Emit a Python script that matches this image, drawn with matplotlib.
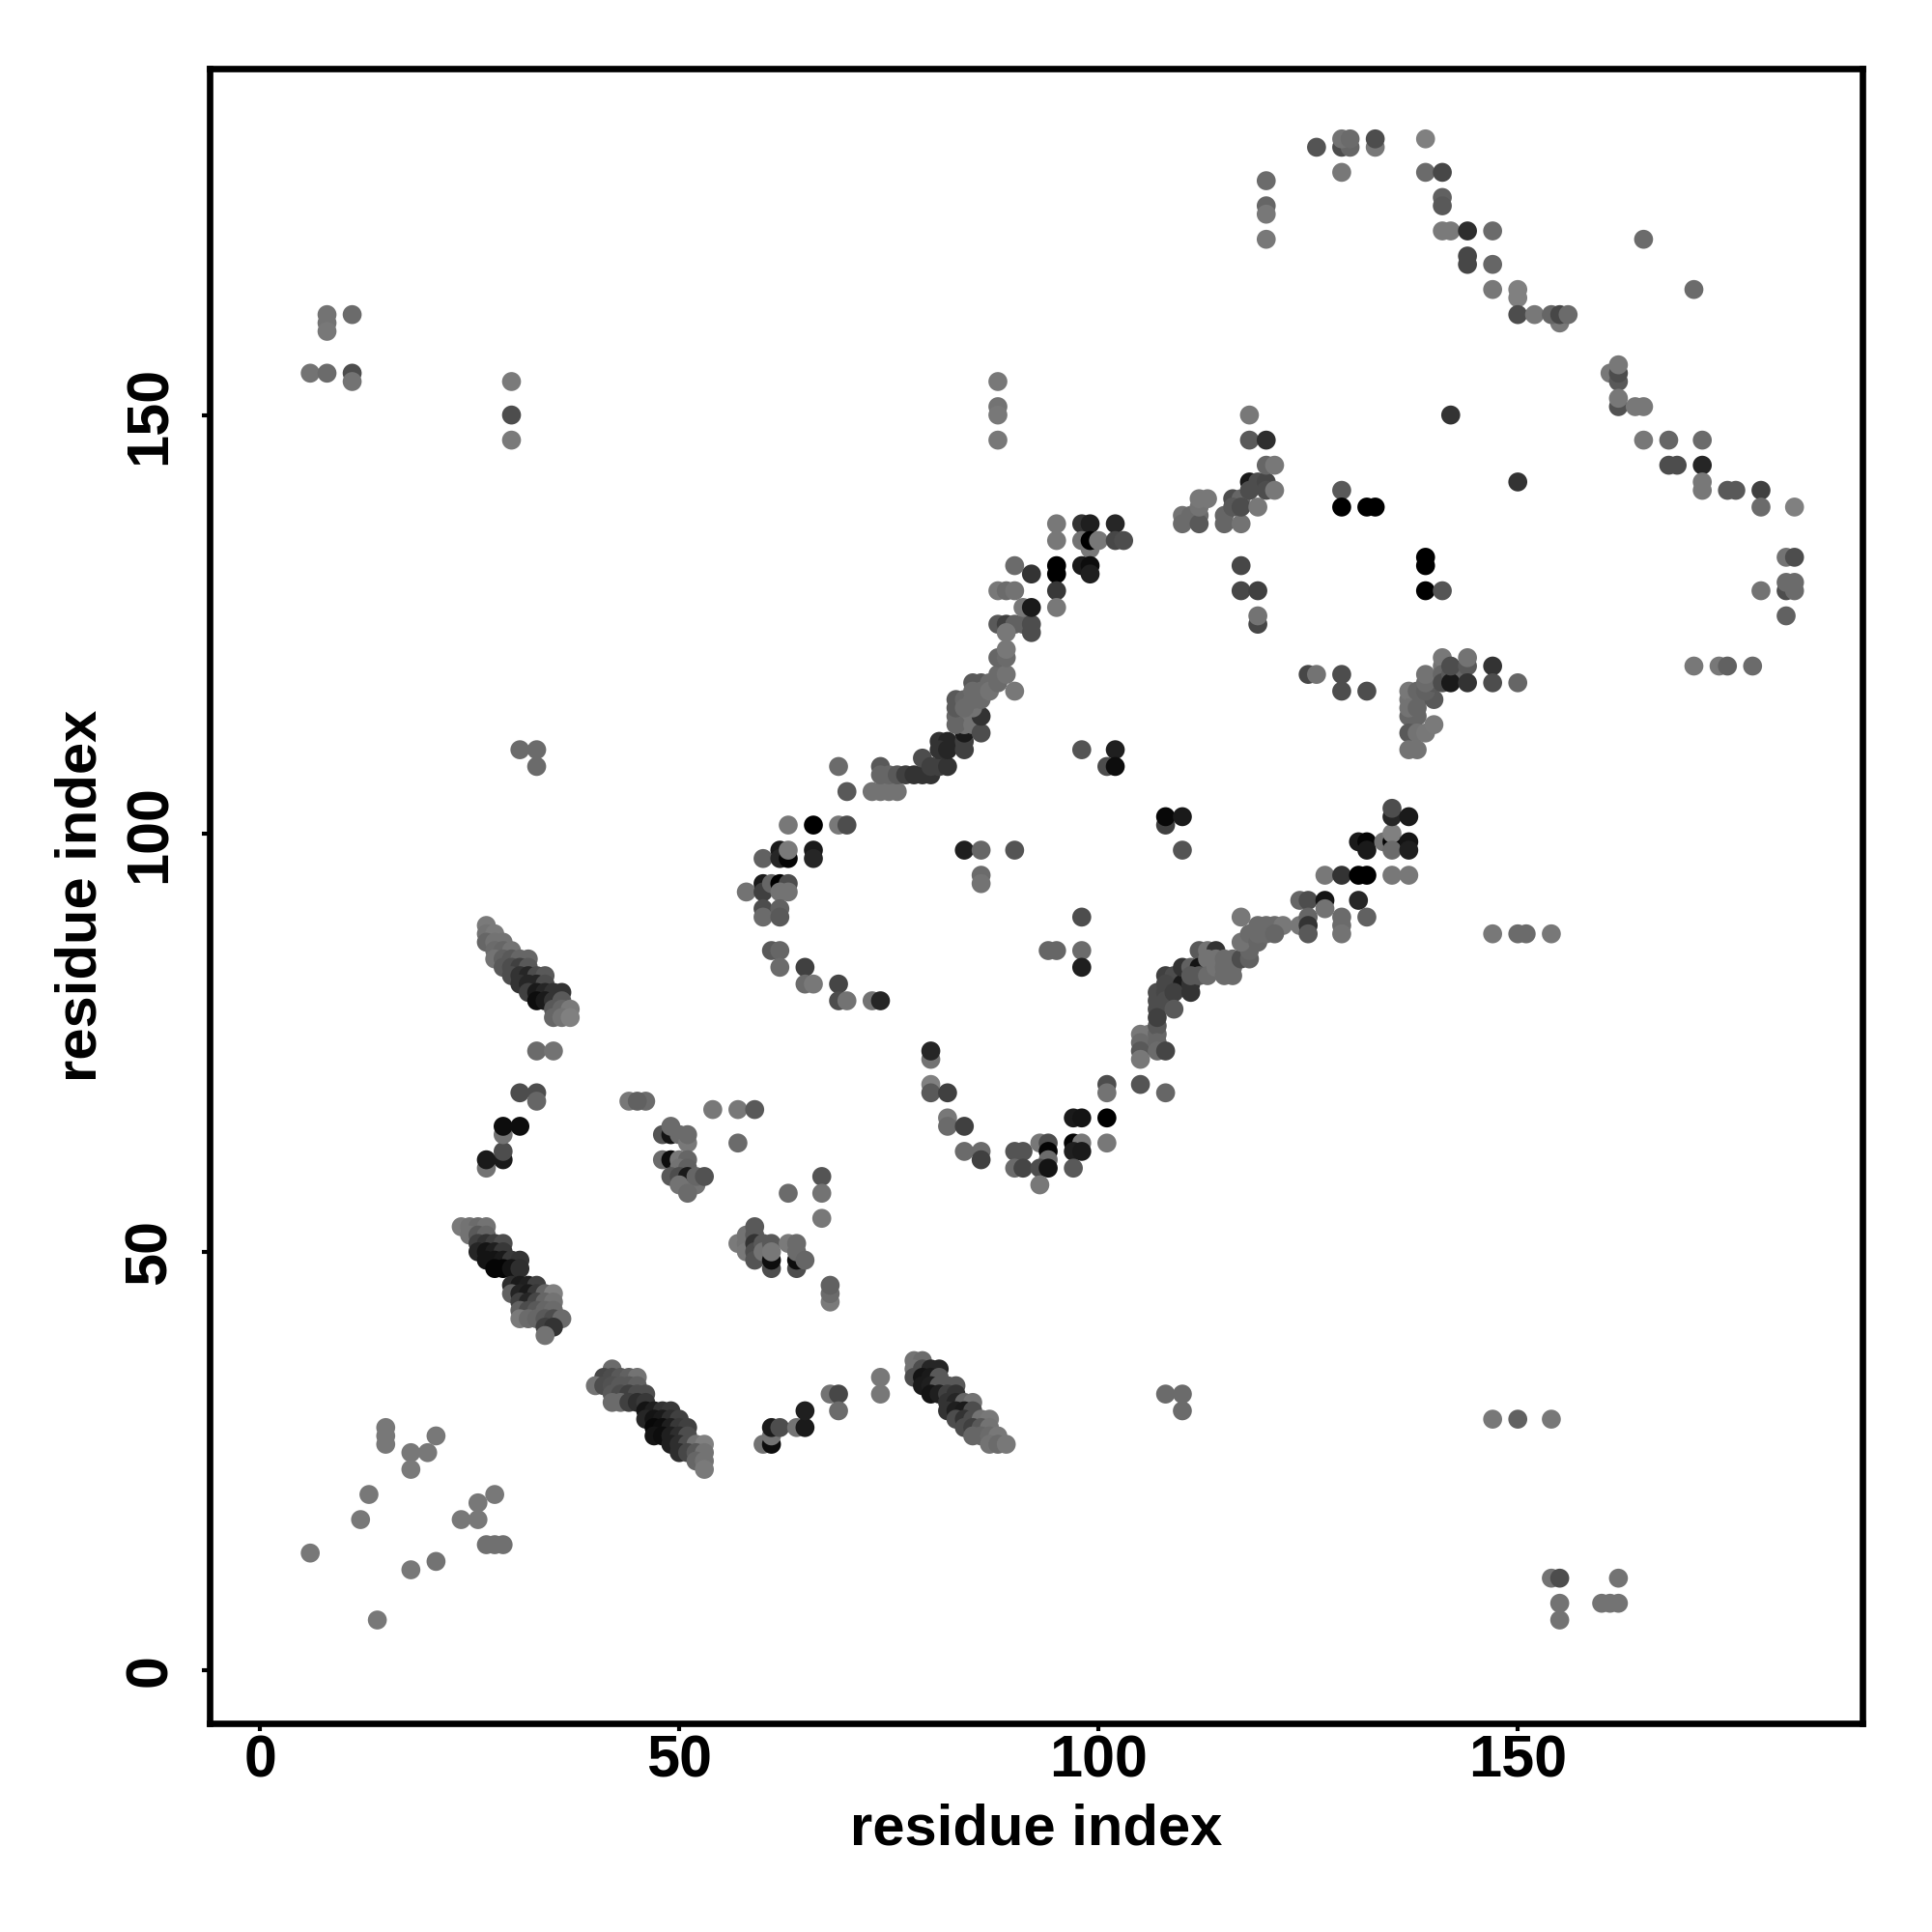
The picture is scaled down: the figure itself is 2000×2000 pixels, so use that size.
import matplotlib
matplotlib.use('Agg')
import matplotlib.pyplot as plt

plt.rcParams['font.family'] = ['Liberation Sans', 'DejaVu Sans']
plt.rcParams['font.weight'] = 'bold'

TICKS = [0, 50, 100, 150]

# (residue x, residue y, grey level in percent)
scatter_low_left = [
    (6,14,47),(12,18,47),(13,21,47),(14,6,47),(15,29,47),(15,28,47),(15,27,47),(18,26,47),(18,24,48),(18,12,47),
    (20,26,47),(21,28,47),(21,13,45),(24,18,47),(26,18,47),(26,20,47),(28,21,47),(27,15,44),(28,15,44),(29,15,44),
]
scatter_low_right = [
    (154,11,45),(155,11,30),(155,8,45),(155,6,45),(160,8,45),(161,8,45),(162,8,45),(162,11,45),
    (147,30,47),(150,30,38),(154,30,47),(147,88,47),(150,88,42),(151,88,42),(154,88,47),
    (108,33,42),(110,33,42),(110,31,42),(74,35,47),(74,33,47),
]
strand_a = [
    (24,53,48),(25,53,45),(26,53,42),(27,53,45),(25,52,45),(26,52,35),(27,52,40),
    (26,51,25),(27,51,20),(28,51,25),(29,51,30),(26,50,15),(27,50,8),(28,50,12),(29,50,22),
    (27,49,8),(28,49,8),(29,49,10),(30,49,22),(31,49,20),(28,48,2),(29,48,2),(30,48,8),(31,48,18),
    (30,46,18),(31,46,10),(32,46,12),(33,46,25),(30,45,38),(31,45,14),(32,45,10),(33,45,22),(34,45,40),(35,45,50),
    (31,44,25),(32,44,15),(33,44,28),(34,44,40),(35,44,45),(31,43,38),(32,43,30),(33,43,35),(34,43,40),(35,43,42),
    (31,42,48),(32,42,42),(33,42,40),(34,42,35),(35,42,30),(36,42,42),(34,41,25),(35,41,20),(34,40,45),
]
strand_b = [
    (42,36,42),(41,35,28),(42,35,30),(43,35,35),(44,35,38),(45,35,45),(40,34,45),(41,34,30),(42,34,32),(43,34,35),(44,34,35),(45,34,38),
    (42,33,35),(43,33,30),(44,33,25),(45,33,30),(46,33,30),(42,32,42),(43,32,42),(44,32,25),(45,32,18),(46,32,22),
    (46,31,8),(47,31,12),(48,31,20),(49,31,22),(46,30,15),(47,30,8),(48,30,10),(49,30,18),(50,30,25),
    (47,29,3),(48,29,5),(49,29,12),(50,29,22),(51,29,25),(47,28,8),(48,28,5),(49,28,12),(50,28,18),(51,28,30),
    (49,27,12),(50,27,18),(51,27,30),(52,27,45),(53,27,50),(50,26,18),(51,26,28),(52,26,35),(53,26,45),(52,25,40),(53,25,45),(53,24,48),
    (60,27,45),(61,27,5),(61,28,45),(61,29,10),(62,29,30),(64,29,45),(65,29,10),(65,31,12),(68,33,45),(69,33,28),(69,31,42),
]
strand_c = [
    (27,89,48),(27,88,45),(28,88,48),(27,87,40),(28,87,45),(29,87,45),(28,86,42),(29,86,40),(30,86,45),
    (28,85,45),(29,85,38),(30,85,35),(31,85,40),(32,85,40),(29,84,35),(30,84,30),(31,84,25),(32,84,35),
    (30,83,30),(31,83,20),(32,83,15),(33,83,30),(34,83,35),(31,82,20),(32,82,15),(33,82,15),(34,82,30),
    (32,81,25),(33,81,10),(34,81,15),(35,81,20),(36,81,20),(33,80,5),(34,80,10),(35,80,20),(36,80,35),
    (35,79,35),(36,79,40),(37,79,48),(35,78,40),(36,78,45),(37,78,50),
]
strand_d = [
    (78,37,45),(79,37,42),(78,36,45),(79,36,30),(80,36,15),(81,36,15),(78,35,30),(79,35,8),(80,35,10),(81,35,35),
    (79,34,10),(80,34,12),(81,34,35),(82,34,35),(83,34,35),(80,33,8),(81,33,12),(82,33,25),(83,33,20),
    (82,32,20),(83,32,15),(84,32,40),(85,32,45),(82,31,20),(83,31,12),(84,31,10),(85,31,30),
    (83,30,30),(84,30,20),(85,30,30),(86,30,45),(87,30,47),(84,29,30),(85,29,25),(86,29,35),(87,29,45),
    (85,28,40),(86,28,40),(87,28,42),(88,28,47),(87,27,45),(88,27,42),(89,27,47),
]
patch_left = [
    (31,110,42),(33,110,42),(33,108,42),(30,154,48),(30,150,30),(30,147,48),
    (6,155,45),(8,155,42),(8,162,45),(8,161,45),(8,160,47),(11,162,42),(11,155,30),(11,154,45),
    (31,69,30),(33,69,30),(33,68,40),(33,74,42),(35,74,45),
    (27,60,45),(27,61,10),(29,61,10),(29,62,30),(29,64,45),(29,65,5),(31,65,5),
]
patch_mid = [
    (44,68,47),(46,68,42),(45,68,38),(54,67,47),(57,67,47),(59,67,35),(57,63,42),
    (48,64,33),(49,64,8),(49,65,42),(50,64,42),(51,63,47),(51,64,42),
    (48,61,42),(49,61,5),(50,61,47),(51,61,40),(50,60,45),(51,60,38),
    (49,59,35),(50,59,30),(51,59,10),(50,58,45),(52,58,45),(52,59,40),(53,59,32),(51,57,42),
    (57,51,48),(58,52,45),(58,51,45),(58,50,47),(59,53,35),(59,52,35),(59,51,20),(59,50,30),(59,49,33),
    (60,51,35),(60,50,45),(61,48,30),(61,49,5),(61,51,35),(61,50,47),
    (63,51,48),(64,48,30),(64,49,5),(64,51,42),(64,50,42),(65,49,40),
    (67,59,33),(67,57,45),(63,57,42),(67,54,47),(68,44,48),(68,45,42),(68,46,38),
]
arc_left = [
    (58,93,45),(60,94,10),(60,93,25),(61,94,40),(62,94,0),(63,94,30),(63,93,45),(62,93,45),
    (60,91,30),(60,90,42),(62,91,38),(62,90,35),(60,97,38),(62,98,10),(62,97,15),(63,97,2),(63,98,48),
    (66,98,10),(66,97,15),(63,101,47),(66,101,0),(69,101,47),(70,101,30),(69,108,42),(70,105,35),
    (61,86,35),(62,86,40),(62,84,42),(65,84,25),(65,82,42),(66,82,47),(69,82,27),(69,80,30),(70,80,45),(73,80,45),(74,80,15),
]
arc_upper = [
    (73,105,45),(74,105,45),(75,105,45),(76,105,45),(74,108,35),(74,107,40),(75,107,40),(76,107,35),(77,107,25),(78,107,20),(79,107,20),(80,107,20),
    (79,109,30),(80,108,25),(81,108,25),(82,108,20),(81,111,20),(82,111,15),(81,110,20),(82,110,15),(84,110,25),(84,111,25),(84,112,10),
    (83,114,40),(84,114,45),(85,114,45),(84,113,45),(83,113,40),(85,113,45),(86,112,30),(86,114,20),(85,115,45),(83,116,35),(83,115,35),(84,116,40),(84,115,42),(85,116,42),
    (85,118,35),(86,118,35),(85,117,42),(86,117,42),(86,116,42),(87,118,42),(87,117,45),(88,118,42),(88,119,42),(89,119,45),(88,121,40),(89,121,42),(89,122,47),(90,117,47),
    (88,125,35),(89,125,25),(90,125,38),(91,125,38),(92,125,30),(92,124,30),(89,124,47),
    (88,129,47),(89,129,42),(90,129,45),(91,127,47),(92,127,10),(90,132,42),(92,131,20),
    (95,132,0),(95,131,0),(95,129,22),(95,127,47),(95,137,47),(95,135,47),
    (98,137,20),(99,137,12),(102,137,15),(98,135,45),(99,134,47),(99,135,0),(100,135,47),(102,135,28),(103,135,30),
    (98,132,10),(99,132,5),(99,131,12),(88,147,47),(88,151,45),(88,150,47),(88,154,47),
]
arc_top = [
    (110,138,45),(110,137,42),(111,138,42),(112,138,42),(112,137,35),(112,139,45),(112,140,47),(113,140,47),
    (115,138,40),(115,137,40),(117,137,45),(116,140,30),(117,140,40),(116,139,35),(117,139,30),(119,139,47),
    (118,142,10),(119,142,30),(120,142,28),(118,141,30),(120,141,30),(121,141,47),(120,144,40),(121,144,47),
    (118,147,35),(120,147,18),(118,150,47),
    (120,178,42),(120,175,40),(120,174,47),(120,171,47),(126,182,33),(129,182,30),(130,182,40),(129,183,45),(130,183,42),(129,179,47),
    (133,182,47),(133,183,30),(139,183,50),(139,179,42),(141,179,28),(141,176,38),(141,175,35),(141,172,48),(142,172,48),(144,172,18),(147,172,42),
    (144,169,28),(144,168,28),(147,168,40),(147,165,47),(150,165,50),(150,164,50),(150,162,30),(152,162,47),(155,161,47),(154,162,40),(155,162,28),(156,162,42),
    (165,171,42),(171,165,42),(161,155,47),(162,154,35),(162,155,30),(162,156,47),(162,151,32),(162,152,47),(164,151,47),(165,151,47),
    (165,147,47),(168,147,40),(172,147,42),(168,144,30),(169,144,30),(172,144,15),(172,141,47),(172,142,47),(175,141,35),(176,141,35),(179,141,25),(179,139,42),(183,139,50),
    (142,150,20),(150,142,20),(129,141,35),(129,139,0),(132,139,0),(133,139,0),(139,133,0),(139,132,0),(139,129,0),(141,129,33),
    (117,132,28),(117,129,28),(119,129,25),(119,125,28),(119,126,45),
    (182,133,45),(183,133,30),(182,129,30),(183,129,42),(182,130,42),(183,130,42),(179,129,45),(182,126,38),
    (171,120,47),(174,120,47),(175,120,38),(178,120,42),
]
arc_right = [
    (125,119,28),(126,119,45),(129,119,30),(129,117,30),(132,117,30),
    (137,116,45),(138,116,40),(137,114,40),(138,114,40),
    (137,117,47),(138,117,40),(137,115,45),(138,115,40),(140,116,35),(139,117,38),(140,118,35),(139,118,42),
    (139,119,45),(141,120,45),(141,121,47),(141,119,40),(141,118,30),(142,119,35),(143,119,40),(142,118,10),
    (142,120,30),(144,120,35),(144,121,45),(144,118,20),(147,120,20),(147,118,30),(150,118,40),
    (137,112,35),(138,112,45),(139,112,47),(140,113,48),(137,110,45),(138,110,45),
]
middle = [
    (98,110,33),(102,110,12),(101,108,30),(102,108,5),(108,101,25),(108,102,3),(110,102,10),(110,98,33),
    (84,98,12),(86,98,40),(90,98,33),(86,95,42),(86,94,45),(98,90,30),(94,86,40),(95,86,40),(98,86,42),(98,84,12),
]
curve_low = [
    (80,70,50),(80,69,35),(82,69,25),(80,73,45),(80,74,15),(82,66,47),(82,65,42),(84,65,25),(84,62,42),(86,62,42),(86,61,25),
    (90,62,33),(91,62,33),(90,60,42),(91,60,27),(93,63,47),(94,63,30),(94,62,2),(94,61,42),(93,60,30),(94,60,8),(93,58,47),
    (97,63,2),(98,63,47),(97,62,12),(98,62,10),(97,60,35),(97,66,10),(98,66,8),(101,66,0),(101,63,47),(101,70,30),(101,69,45),
    (105,70,33),(108,69,40),(105,76,47),(106,76,47),(107,76,40),(105,75,42),(105,74,35),(105,73,47),(107,77,35),(107,75,40),(107,74,42),(108,74,27),
]
curve_high = [
    (107,81,30),(107,80,30),(107,79,30),(107,78,25),(108,83,25),(109,83,30),(108,82,28),(108,81,28),(108,80,30),(110,82,10),(111,82,20),(109,81,25),(111,81,20),(109,79,35),
    (112,86,35),(113,86,45),(114,86,20),(110,84,20),(111,84,38),(112,84,8),(111,83,35),(112,83,35),(113,85,45),(113,83,42),(114,85,45),(114,84,45),
    (115,85,42),(116,85,42),(115,84,42),(116,84,42),(115,83,42),(116,83,42),(117,85,30),(118,85,38),(118,86,40),(117,87,45),(118,88,42),(119,87,40),(119,88,42),
    (117,90,47),(120,88,42),(119,89,42),(120,89,42),(121,89,42),(122,89,47),(121,88,40),(124,89,47),
    (124,92,40),(125,92,30),(127,92,8),(127,91,45),(125,90,40),(125,89,20),(125,88,35),(129,90,42),(129,89,42),(129,88,45),(131,92,15),(132,90,38),
    (127,95,47),(129,95,20),(131,95,0),(132,95,0),(135,95,47),(137,95,47),
    (131,99,10),(132,99,2),(132,98,10),(134,99,45),(135,99,2),(135,100,50),(135,98,42),(137,99,8),(137,98,12),(135,102,15),(135,103,30),(137,102,10),
]

clusters = [scatter_low_left, scatter_low_right, strand_a, strand_b, strand_c, strand_d, patch_left, patch_mid,
            arc_left, arc_upper, arc_top, arc_right, middle, curve_low, curve_high]

points = [p for cluster in clusters for p in cluster]
xs = [p[0] for p in points]
ys = [p[1] for p in points]
cols = [str(p[2] / 100) for p in points]

fig = plt.figure(figsize=(20, 20), dpi=100)
ax = fig.add_axes([217 / 2000, 1 - 1784 / 2000, (1928 - 217) / 2000, (1784 - 71) / 2000])
ax.scatter(xs, ys, s=200, c=cols, linewidths=0)

ax.set_xlim(-6, 191.1)
ax.set_ylim(-6.35, 191.4)
ax.set_xticks(TICKS)
ax.set_yticks(TICKS)
ax.tick_params(axis='both', length=6, width=3, labelsize=44)
ax.tick_params(axis='x', pad=2)
ax.tick_params(axis='y', pad=17)
plt.setp(ax.get_yticklabels(), rotation=90, va='center')
for spine in ax.spines.values():
    spine.set_linewidth(4.8)

ax.set_xlabel('residue index', fontsize=43, fontweight='bold', labelpad=10)
ax.set_ylabel('residue index', fontsize=43, fontweight='bold', labelpad=12)

fig.savefig('out.png', dpi=100)
